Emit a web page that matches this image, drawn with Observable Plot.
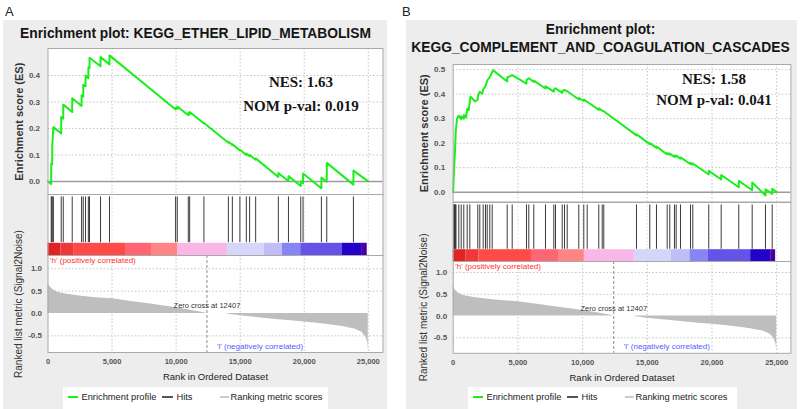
<!DOCTYPE html>
<html>
<head>
<meta charset="utf-8">
<script src="https://cdn.jsdelivr.net/npm/d3@7"></script>
<script src="https://cdn.jsdelivr.net/npm/@observablehq/plot@0.6"></script>
<style>
html,body{margin:0;padding:0;background:#fff;}
#root{position:relative;width:800px;height:409px;overflow:hidden;font-family:"Liberation Sans",Arial,Helvetica,sans-serif;}
#root > *{position:absolute;}
.bg{background:#ededed;}
.plbl{font-size:13px;color:#222;line-height:16px;}
.ttl{font-weight:bold;font-size:13.8px;color:#151515;text-align:center;white-space:nowrap;line-height:18px;}
.nes{font-family:"Liberation Serif","Times New Roman",serif;font-weight:bold;font-size:15px;color:#151515;text-align:center;white-space:nowrap;line-height:18px;}
.lg{background:#fff;}
.lg > div{position:absolute;}
.lg span{position:absolute;white-space:nowrap;font-size:9.3px;line-height:12px;color:#222;}
</style>
</head>
<body>
<div id="root"></div>
<script>
// ---------------- data ----------------
const xTickValues = [0, 5000, 10000, 15000, 20000, 25000];
const esTicksA = [0, 0.1, 0.2, 0.3, 0.4];
const esTicksB = [0, 0.1, 0.2, 0.3, 0.4, 0.5];
const metricTicks = [-0.5, 0, 0.5, 1.0];
const zeroCross = 12407;

const titlesA = ["Enrichment plot: KEGG_ETHER_LIPID_METABOLISM"];
const titlesB = ["Enrichment plot:", "KEGG_COMPLEMENT_AND_COAGULATION_CASCADES"];
const statsA = ["NES: 1.63", "NOM p-val: 0.019"];
const statsB = ["NES: 1.58", "NOM p-val: 0.041"];
const legendLabels = ["Enrichment profile", "Hits", "Ranking metric scores"];

// running enrichment score, panel A (rank, ES)
const esRankA  = [0, 250, 252, 330, 332, 420, 1030, 1032, 1190, 1192, 1890, 1892, 2620, 2622, 2750, 2752, 2930, 2932, 3150, 3152, 3240, 3242, 4100, 4102, 4800, 4802, 9960, 9962, 10090, 10092, 10950, 10952, 11060, 11062, 12170, 12172, 14080, 14082, 14390, 14392, 14980, 14982, 15480, 15482, 15740, 15742, 16210, 16212, 17980, 17982, 18770, 18772, 19730, 19732, 19910, 19912, 21340, 21342, 21760, 21762, 23840, 23842, 25000];
const esScoreA = [0, -0.01, 0.068, 0.065, 0.135, 0.205, 0.181, 0.243, 0.237, 0.29, 0.262, 0.314, 0.285, 0.325, 0.32, 0.365, 0.36, 0.40, 0.39, 0.43, 0.428, 0.467, 0.435, 0.47, 0.442, 0.476, 0.272, 0.278, 0.274, 0.283, 0.25, 0.258, 0.254, 0.262, 0.219, 0.221, 0.146, 0.15, 0.138, 0.14, 0.117, 0.12, 0.1, 0.105, 0.095, 0.1, 0.082, 0.087, 0.017, 0.032, 0.001, 0.02, -0.017, 0.0, -0.007, 0.03, -0.026, 0.015, -0.001, 0.07, -0.012, 0.041, 0.0];
const hitsA = [250, 300, 330, 420, 1030, 1190, 1890, 2620, 2750, 2930, 3150, 3240, 4100, 4800, 9960, 10090, 10950, 11060, 12170, 14080, 14390, 14980, 15480, 15740, 16210, 17980, 18770, 19730, 19910, 21340, 21760, 23840];

// running enrichment score, panel B (rank, ES)
const esRankB  = [0, 60, 130, 200, 300, 420, 600, 620, 820, 830, 1000, 1082, 1200, 1283, 1340, 1700, 1901, 1905, 2056, 2250, 2318, 2496, 2628, 2828, 3014, 3090, 4173, 4180, 4560, 5665, 5670, 5843, 6229, 6235, 7133, 7140, 7775, 7780, 7906, 8424, 8430, 8601, 8810, 9706, 9712, 10093, 10100, 10356, 11252, 11258, 11515, 11639, 14166, 14172, 15194, 15200, 15711, 15717, 16538, 16544, 16739, 16745, 17102, 17108, 17233, 17240, 17566, 17572, 18339, 18345, 18516, 18522, 19752, 19758, 20711, 20717, 22071, 22077, 23107, 23113, 24135, 24141, 24653, 24659, 25000];
const esScoreB = [0, 0.09, 0.16, 0.25, 0.30, 0.312, 0.298, 0.31, 0.30, 0.315, 0.305, 0.34, 0.335, 0.372, 0.39, 0.37, 0.378, 0.392, 0.41, 0.402, 0.42, 0.432, 0.455, 0.47, 0.49, 0.497, 0.452, 0.468, 0.478, 0.443, 0.458, 0.465, 0.45, 0.455, 0.423, 0.432, 0.41, 0.418, 0.424, 0.405, 0.413, 0.417, 0.412, 0.378, 0.385, 0.372, 0.378, 0.369, 0.336, 0.342, 0.333, 0.33, 0.232, 0.236, 0.196, 0.2, 0.181, 0.186, 0.154, 0.16, 0.153, 0.158, 0.144, 0.15, 0.145, 0.149, 0.137, 0.142, 0.114, 0.12, 0.113, 0.117, 0.072, 0.087, 0.052, 0.07, 0.02, 0.046, 0.008, 0.04, -0.014, 0.012, -0.007, 0.014, 0.0];
const hitsB = [20, 62, 100, 139, 180, 216, 433, 618, 819, 1082, 1283, 1901, 2056, 2318, 2496, 2628, 2828, 3014, 4173, 4560, 5665, 5843, 6229, 7133, 7775, 7906, 8424, 8601, 8810, 9706, 10093, 10356, 11252, 11515, 11639, 14166, 15194, 15711, 16538, 16739, 17102, 17233, 17566, 18339, 18516, 19752, 20711, 22071, 23107, 24135, 24653];

// ranked list metric (Signal2Noise), shared
const metricPosRank = [0, 50, 150, 400, 800, 1500, 2500, 3500, 5000, 6500, 8000, 9500, 11000, 12000, 12407];
const metricPosVal  = [0.70, 0.65, 0.6, 0.53, 0.47, 0.43, 0.39, 0.36, 0.33, 0.27, 0.21, 0.15, 0.08, 0.03, 0.0];
const metricNegRank = [14000, 15000, 16000, 17000, 18000, 19000, 20000, 21000, 22000, 23000, 24000, 24500, 24800, 24950, 25000];
const metricNegVal  = [-0.01, -0.05, -0.08, -0.11, -0.14, -0.165, -0.19, -0.22, -0.25, -0.29, -0.35, -0.42, -0.52, -0.65, -0.8];

// colour bar of the ranked list
const barStart = [0, 1000, 2000, 6050, 8140, 10140, 14000, 16870, 18300, 19730, 22990, 24540];
const barEnd   = [1000, 2000, 6050, 8140, 10140, 14000, 16870, 18300, 19730, 22990, 24540, 24920];
const barColor = ["#e02424", "#f03838", "#ff4a4a", "#ff6674", "#ff8585", "#f9b6e6", "#d6d5fa", "#c1bef7", "#8785f3", "#6552e6", "#2400c8", "#4a00a0"];

// ---------------- helpers ----------------
const FONT = '"Liberation Sans", Arial, Helvetica, sans-serif';
const GREEN = "#1bef1b";
const GRID = {stroke: "#c4c4c4", strokeOpacity: 1, strokeDasharray: "1.5,2", strokeWidth: 1};
const FRAME = "#a9a9a9";
const root = document.getElementById("root");

function put(el, left, top) {
  el.style.position = "absolute";
  el.style.left = left + "px";
  el.style.top = top + "px";
  root.appendChild(el);
  return el;
}
function div(cls, text, left, top, width, height) {
  const d = document.createElement("div");
  if (cls) d.className = cls;
  if (text != null) d.textContent = text;
  if (width != null) d.style.width = width + "px";
  if (height != null) d.style.height = height + "px";
  return put(d, left, top);
}
const zip = (a, b) => a.map((v, i) => ({r: v, v: b[i]}));

function buildPanel(p) {
  div("bg", null, p.bg[0], p.bg[1], p.bg[2], p.bg[3]);
  div("plbl", p.letter, p.letterPos[0], p.letterPos[1]);
  p.titles.forEach((t, i) => div("ttl", t, p.titleCx - 200, p.titleTop + 18 * i, 400));

  const base = {
    width: p.w, marginLeft: p.ml, marginRight: p.mr,
    style: {fontFamily: FONT, background: "none", overflow: "visible"}
  };

  // enrichment score plot
  const es = Plot.plot({
    ...base, height: p.es.h, marginTop: p.es.mt, marginBottom: p.es.mb,
    x: {domain: [0, p.xmax], axis: null},
    y: {domain: p.es.domain, axis: null},
    marks: [
      Plot.frame({fill: "#fff"}),
      Plot.gridX(xTickValues.slice(1), GRID),
      Plot.gridY(p.es.ticks.filter(v => v !== 0), GRID),
      Plot.ruleY([0], {stroke: "#9c9c9c", strokeWidth: 1.5}),
      Plot.line(zip(p.esRank, p.esScore), {x: "r", y: "v", stroke: GREEN, strokeWidth: 2}),
      Plot.axisY(p.es.ticks, {tickSize: 0, tickPadding: 8, tickFormat: d => d.toFixed(1), fontSize: 8, fontWeight: "bold", fill: "#555", label: null}),
      Plot.axisY([], {label: "Enrichment score (ES)", labelAnchor: "center", labelArrow: "none", labelOffset: p.yLabelOffset, fontSize: 11, fontWeight: "bold", fill: "#333"}),
      Plot.frame({stroke: FRAME})
    ]
  });
  put(es, p.left, p.es.top);

  // hits + colour bar
  const hits = Plot.plot({
    ...base, height: p.hits.h, marginTop: 0, marginBottom: 0,
    x: {domain: [0, p.xmax], axis: null},
    y: {domain: [0, 1], axis: null},
    color: {type: "identity"},
    marks: [
      Plot.frame({fill: "#fff"}),
      Plot.gridX(xTickValues.slice(1), {...GRID, stroke: "#dcdcdc"}),
      Plot.rect(barStart.map((s, i) => ({s, e: barEnd[i], c: barColor[i]})), {x1: "s", x2: "e", y1: 0, y2: p.hits.cb, fill: "c"}),
      Plot.ruleX(p.hits.data, {y1: p.hits.y1, y2: p.hits.y2, stroke: "#3a3a3a", strokeWidth: 1}),
      Plot.frame({stroke: FRAME})
    ]
  });
  put(hits, p.left, p.hits.top);

  // ranked list metric
  const met = Plot.plot({
    ...base, height: p.met.h, marginTop: 0, marginBottom: p.met.mb,
    x: {domain: [0, p.xmax], axis: null},
    y: {domain: p.met.domain, axis: null},
    marks: [
      Plot.frame({fill: "#fff"}),
      Plot.gridX(xTickValues.slice(1), GRID),
      Plot.gridY(metricTicks.filter(v => v !== 0), GRID),
      Plot.areaY(zip(metricPosRank, metricPosVal), {x: "r", y: "v", fill: "#bebebe"}),
      Plot.areaY(zip(metricNegRank, metricNegVal), {x: "r", y: "v", fill: "#bebebe"}),
      Plot.ruleX([zeroCross], {stroke: "#8a8a8a", strokeDasharray: "3,2"}),
      Plot.text([`Zero cross at ${zeroCross}`], {x: zeroCross, y: 0, lineAnchor: "bottom", dy: -5, fontSize: 7.5, fill: "#333"}),
      Plot.text(["'h' (positively correlated)"], {frameAnchor: "top-left", lineAnchor: "middle", dx: 2, dy: 5, textAnchor: "start", fontSize: 8, fill: "#ff3030"}),
      Plot.text(["'l' (negatively correlated)"], {x: zeroCross, frameAnchor: "bottom", lineAnchor: "middle", dx: 10, dy: -6.5, textAnchor: "start", fontSize: 8, fill: "#5a5aff"}),
      Plot.axisY(metricTicks, {tickSize: 0, tickPadding: 6, tickFormat: d => d.toFixed(1), fontSize: 8, fontWeight: "bold", fill: "#555", label: null}),
      Plot.axisY([], {label: "Ranked list metric (Signal2Noise)", labelAnchor: "center", labelArrow: "none", labelOffset: p.yLabelOffset + 1, fontSize: 10, fill: "#333"}),
      Plot.axisX(xTickValues, {tickSize: 0, tickPadding: 6.5, tickFormat: d3.format(","), fontSize: 7.5, fontWeight: "bold", fill: "#555", label: null}),
      Plot.axisX([], {label: "Rank in Ordered Dataset", labelAnchor: "center", labelArrow: "none", labelOffset: 27.5, fontSize: 9.5, fill: "#222"}),
      Plot.frame({stroke: FRAME})
    ]
  });
  put(met, p.left, p.met.top);

  // NES statistics
  div("nes", p.stats[0], p.statCx - 80, p.statY[0] - 9, 160);
  div("nes", p.stats[1], p.statCx - 80, p.statY[1] - 9, 160);

  // legend
  const lg = div("lg", null, p.legend[0], p.legend[1], p.legend[2], 26);
  const sw = (x, w, c, t) => { const s = document.createElement("div"); s.style.cssText = `position:absolute;left:${x}px;top:${10 - t / 2}px;width:${w}px;height:${t}px;background:${c}`; lg.appendChild(s); };
  const tx = (x, t) => { const s = document.createElement("span"); s.textContent = t; s.style.left = x + "px"; s.style.top = "4px"; lg.appendChild(s); };
  sw(5, 10, GREEN, 2); tx(18.5, legendLabels[0]);
  sw(99, 11, "#555", 1.5); tx(113.5, legendLabels[1]);
  sw(157, 9, "#cccccc", 2); tx(167.5, legendLabels[2]);
}

buildPanel({
  letter: "A", letterPos: [5, 4],
  bg: [3, 20, 384, 389],
  titles: titlesA, titleCx: 195.5, titleTop: 25,
  left: 0, w: 390, ml: 47.5, mr: 7.5, xmax: 26150, yLabelOffset: 32.5,
  es: {top: 40, h: 160, mt: 8, mb: 5.7, domain: [-0.0505, 0.502], ticks: esTicksA},
  esRank: esRankA, esScore: esScoreA,
  hits: {top: 194.3, h: 61, y1: 0.21, y2: 0.96, cb: 0.2, data: hitsA},
  met: {top: 255.3, h: 130, mb: 33, domain: [-0.8725, 1.2975]},
  stats: statsA, statCx: 301, statY: [82, 106],
  legend: [63, 387, 265]
});

buildPanel({
  letter: "B", letterPos: [402, 4],
  bg: [406, 20, 391, 389],
  titles: titlesB, titleCx: 600.5, titleTop: 21,
  left: 400, w: 400, ml: 52.7, mr: 9.6, xmax: 26100, yLabelOffset: 32.7,
  es: {top: 56, h: 150, mt: 8, mb: 4.5, domain: [-0.04, 0.521], ticks: esTicksB},
  esRank: esRankB, esScore: esScoreB,
  hits: {top: 201.5, h: 59, y1: 0.207, y2: 0.958, cb: 0.2, data: hitsB},
  met: {top: 260.5, h: 125, mb: 33.2, domain: [-0.857, 1.253]},
  stats: statsB, statCx: 714, statY: [79, 100],
  legend: [468, 387, 269]
});
</script>
</body>
</html>
